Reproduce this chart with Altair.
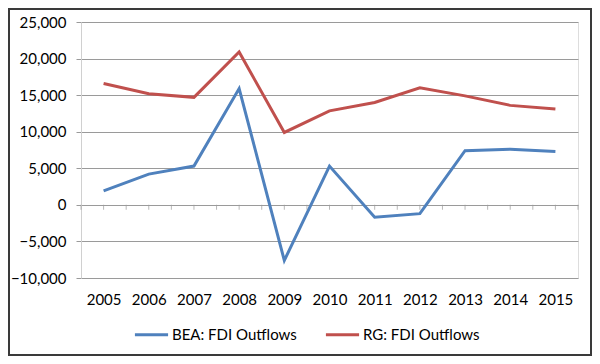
import altair as alt
import pandas as pd

years = [2005, 2006, 2007, 2008, 2009, 2010, 2011, 2012, 2013, 2014, 2015]
bea = [1900, 4200, 5300, 15900, -7600, 5300, -1700, -1200, 7400, 7600, 7300]
rg = [16600, 15200, 14700, 20900, 9900, 12850, 14000, 16000, 14900, 13600, 13100]
series_names = ["BEA: FDI Outflows", "RG: FDI Outflows"]
colors = ["#4F81BD", "#C0504D"]
y_ticks = [-10000, -5000, 0, 5000, 10000, 15000, 20000, 25000]

rows = []
for name, vals in zip(series_names, [bea, rg]):
    for yr, v in zip(years, vals):
        rows.append({"Year": yr, "Value": v, "Series": name})
df = pd.DataFrame(rows)

tick_pos = [years[0] - 0.5 + 0.5 * i for i in range(2 * len(years) + 1)]
ticks_df = pd.DataFrame({"t": tick_pos, "z": [0] * len(tick_pos)})

FONT = "Lato"
W, H = 497, 256

xscale = alt.Scale(domain=[years[0] - 0.5, years[-1] + 0.5], nice=False, zero=False)
yscale = alt.Scale(domain=[-10000, 25000], nice=False, zero=False)

x_axis = alt.Axis(values=years, format="d", title=None, ticks=False, domain=False,
                  grid=False, labelFont=FONT, labelFontSize=15, labelColor="#000",
                  labelPadding=14, labelOverlap=False)
y_axis = alt.Axis(values=y_ticks, format=",d", title=None, grid=True, gridColor="#9a9a9a",
                  gridWidth=1, domain=True, domainColor="#d0d0d0", ticks=True,
                  tickColor="#9a9a9a", tickSize=5, labelFont=FONT, labelFontSize=15,
                  labelColor="#000", labelPadding=10, labelOverlap=False)

lines = alt.Chart(df).mark_line(strokeWidth=3, clip=False).encode(
    x=alt.X("Year:Q", scale=xscale, axis=x_axis),
    y=alt.Y("Value:Q", scale=yscale, axis=y_axis),
    color=alt.Color("Series:N", scale=alt.Scale(domain=series_names, range=colors),
                    legend=alt.Legend(title=None, orient="none", direction="horizontal",
                                      legendX=52, legendY=294, symbolType="stroke",
                                      symbolSize=1100, symbolStrokeWidth=3,
                                      labelFont=FONT, labelFontSize=15, labelColor="#000",
                                      labelOffset=2, columnPadding=22)),
)

zero_ticks = alt.Chart(ticks_df).mark_tick(orient="vertical", color="#9a9a9a", size=5,
                                           thickness=1, yOffset=2.5).encode(
    x=alt.X("t:Q", scale=xscale, axis=x_axis),
    y=alt.Y("z:Q", scale=yscale, axis=y_axis),
)

border = alt.Chart(pd.DataFrame({"a": [0]})).mark_rect(
    fill=None, stroke="#3a3a3a", strokeWidth=2, clip=False).encode(
    x=alt.value(-72), x2=alt.value(510), y=alt.value(-13), y2=alt.value(333))

chart = alt.layer(lines, zero_ticks, border).properties(
    width=W, height=H,
    autosize=alt.AutoSizeParams(type="none"),
    padding={"left": 73, "top": 14, "right": 14, "bottom": 78},
).configure_view(stroke=None).configure(background="white")

chart.save("out.html", embed_options={"renderer": "svg", "actions": False})
